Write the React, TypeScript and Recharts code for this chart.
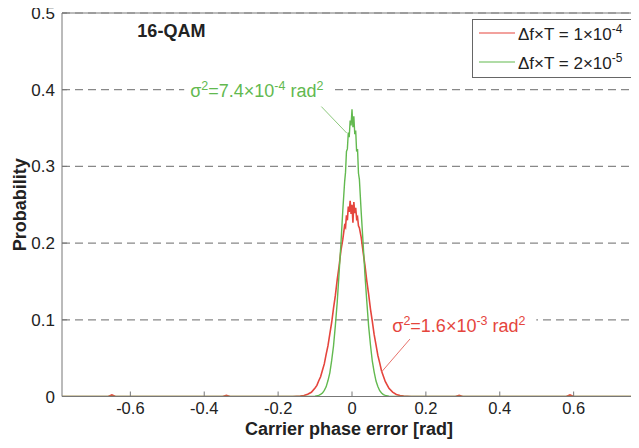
import { LineChart, Line, XAxis, YAxis, CartesianGrid, Legend, ReferenceDot, ReferenceLine } from "recharts";

const FONT = '"Liberation Sans", Arial, Helvetica, sans-serif';
const RED = "#e5453d";
const GREEN = "#62b94f";
const AXIS = "#777";

const xTicks = [-0.6, -0.4, -0.2, 0, 0.2, 0.4, 0.6];
const yTicks = [0, 0.1, 0.2, 0.3, 0.4, 0.5];

// Δf×T = 1e-4 (red)
const redX = [
  -0.785, -0.66, -0.65, -0.64, -0.35, -0.34, -0.33,
  -0.16, -0.15, -0.14, -0.13, -0.12, -0.11, -0.1,
  -0.095, -0.09, -0.085, -0.08, -0.075, -0.07, -0.065, -0.06, -0.055, -0.05, -0.045, -0.04, -0.035, -0.03, -0.025, -0.02,
  -0.0175, -0.015, -0.0125, -0.01, -0.0075, -0.005, -0.0025, 0, 0.0025, 0.005, 0.0075, 0.01, 0.0125, 0.015, 0.0175,
  0.02, 0.025, 0.03, 0.035, 0.04, 0.045, 0.05, 0.055, 0.06, 0.065, 0.07, 0.075, 0.08, 0.085, 0.09, 0.095,
  0.1, 0.11, 0.12, 0.13, 0.14, 0.15, 0.16,
  0.28, 0.29, 0.3, 0.58, 0.59, 0.6, 0.785,
];
const redP = [
  0, 0, 0.002, 0, 0, 0.0015, 0,
  0, 0.0003, 0.0006, 0.0012, 0.003, 0.0055, 0.0112,
  0.0145, 0.0205, 0.0258, 0.0342, 0.0425, 0.0548, 0.0662, 0.0818, 0.0965, 0.1152, 0.1318, 0.1525, 0.1698, 0.1902, 0.2045, 0.2228,
  0.2205, 0.2362, 0.2298, 0.2475, 0.2406, 0.2552, 0.2381, 0.2498, 0.2265, 0.2534, 0.2392, 0.2461, 0.2318, 0.234, 0.2226,
  0.2198, 0.2072, 0.1885, 0.1712, 0.1508, 0.1335, 0.114, 0.0978, 0.0806, 0.0672, 0.0536, 0.0438, 0.0332, 0.0265, 0.0196, 0.0152,
  0.0108, 0.0058, 0.0027, 0.0014, 0.0005, 0.0002, 0,
  0, 0.0015, 0, 0, 0.002, 0, 0,
];

// Δf×T = 2e-5 (green)
const greenX = [
  -0.785, -0.11, -0.1, -0.09,
  -0.085, -0.08, -0.075, -0.07, -0.065, -0.06, -0.055, -0.05, -0.045, -0.04, -0.035, -0.03, -0.025, -0.02,
  -0.0175, -0.015, -0.0125, -0.01, -0.0075, -0.005, -0.0025, 0, 0.0025, 0.005, 0.0075, 0.01, 0.0125, 0.015, 0.0175,
  0.02, 0.025, 0.03, 0.035, 0.04, 0.045, 0.05, 0.055, 0.06, 0.065, 0.07, 0.075, 0.08, 0.085,
  0.09, 0.1, 0.11, 0.785,
];
const greenP = [
  0, 0, 0.0004, 0.0015,
  0.0027, 0.0045, 0.008, 0.0126, 0.0208, 0.0309, 0.047, 0.0661, 0.0928, 0.1228, 0.1605, 0.1988, 0.2418, 0.2795,
  0.2925, 0.3195, 0.3228, 0.3442, 0.3382, 0.3598, 0.3535, 0.3745, 0.3512, 0.3652, 0.342, 0.3468, 0.3195, 0.3225, 0.291,
  0.283, 0.2395, 0.2002, 0.159, 0.1242, 0.0918, 0.0672, 0.046, 0.0318, 0.0201, 0.013, 0.0076, 0.0047, 0.0025,
  0.0014, 0.0004, 0, 0,
];

const redData = redX.map((x, i) => ({ x, p: redP[i] }));
const greenData = greenX.map((x, i) => ({ x, p: greenP[i] }));

// annotation text with a white patch behind it, like the original figure
const SigmaText = ({ x, y, color, mant, exp }: any) => (
  <g>
    <rect x={x - 6} y={y - 19} width={150} height={26} fill="#fff" />
    <text x={x} y={y} fill={color} fontSize={18} fontFamily={FONT}>
      σ<tspan dy={-7} fontSize={12.5}>2</tspan>
      <tspan dy={7}>={mant}×10</tspan>
      <tspan dy={-7} fontSize={12.5}>{exp}</tspan>
      <tspan dy={7}> rad</tspan>
      <tspan dy={-7} fontSize={12.5}>2</tspan>
    </text>
  </g>
);

const legendRows = [
  { color: RED, exp: "-4", mant: "1" },
  { color: GREEN, exp: "-5", mant: "2" },
];

const LegendBox = () => (
  <div
    style={{
      position: "relative",
      width: 175,
      height: 59,
      border: "1.5px solid #666",
      background: "#fff",
      boxSizing: "border-box",
      fontFamily: FONT,
      fontSize: 17,
      color: "#222",
    }}
  >
    {legendRows.map((r, i) => (
      <div
        key={i}
        style={{ position: "absolute", left: 6, top: i * 29 - 1, height: 28, display: "flex", alignItems: "center", whiteSpace: "nowrap" }}
      >
        <svg width={36} height={4} style={{ marginRight: 3 }}>
          <line x1={0} y1={2} x2={36} y2={2} stroke={r.color} strokeWidth={1.2} />
        </svg>
        <span>
          Δf×T = {r.mant}×10<sup style={{ fontSize: 12 }}>{r.exp}</sup>
        </span>
      </div>
    ))}
  </div>
);

export default function App() {
  return (
    <div style={{ margin: -8, width: 639, height: 448, overflow: "hidden", background: "#fff", position: "relative" }}>
      <LineChart width={660} height={448} margin={{ top: 12, right: 18, bottom: 0, left: 0 }}>
        <CartesianGrid vertical={false} stroke="#888" strokeDasharray="8 5" strokeWidth={1.2} />
        <XAxis
          xAxisId="top"
          orientation="top"
          type="number"
          domain={[-0.785, 0.785]}
          ticks={xTicks}
          tick={false}
          tickSize={-5}
          height={1}
          stroke={AXIS}
          allowDataOverflow
        />
        <XAxis
          dataKey="x"
          type="number"
          domain={[-0.785, 0.785]}
          ticks={xTicks}
          tickSize={-5}
          tickMargin={11}
          height={51.5}
          stroke={AXIS}
          allowDataOverflow
          tick={{ fill: "#222", fontSize: 16.5, fontFamily: FONT }}
          label={{
            content: (p: any) => (
              <text
                x={p.viewBox.x + p.viewBox.width / 2 - 3}
                y={p.viewBox.y + 38}
                textAnchor="middle"
                fontSize={18}
                fontWeight="bold"
                fontFamily={FONT}
                fill="#222"
              >
                Carrier phase error [rad]
              </text>
            ),
          }}
        />
        <YAxis
          type="number"
          domain={[0, 0.5]}
          ticks={yTicks}
          width={62}
          tickSize={-5}
          tickMargin={12}
          stroke={AXIS}
          allowDataOverflow
          tick={{ fill: "#222", fontSize: 17, fontFamily: FONT }}
          label={{
            content: (p: any) => {
              const cy = p.viewBox.y + p.viewBox.height / 2;
              return (
                <text
                  x={20}
                  y={cy}
                  transform={`rotate(-90 20 ${cy})`}
                  textAnchor="middle"
                  dominantBaseline="central"
                  fontSize={18}
                  fontWeight="bold"
                  fontFamily={FONT}
                  fill="#222"
                >
                  Probability
                </text>
              );
            },
          }}
        />
        <ReferenceDot
          x={-0.438}
          y={0.391}
          r={0}
          fill="none"
          stroke="none"
          label={{ content: (p: any) => <SigmaText x={p.viewBox.x} y={p.viewBox.y} color={GREEN} mant="7.4" exp="-4" /> }}
        />
        <ReferenceDot
          x={0.109}
          y={0.084}
          r={0}
          fill="none"
          stroke="none"
          label={{ content: (p: any) => <SigmaText x={p.viewBox.x} y={p.viewBox.y} color={RED} mant="1.6" exp="-3" /> }}
        />
        <ReferenceDot
          x={-0.581}
          y={0.469}
          r={0}
          fill="none"
          stroke="none"
          label={{
            content: (p: any) => (
              <text x={p.viewBox.x} y={p.viewBox.y} fontSize={18} fontWeight="bold" fontFamily={FONT} fill="#222">
                16-QAM
              </text>
            ),
          }}
        />
        <Line data={redData} dataKey="p" type="linear" stroke={RED} strokeWidth={1.6} dot={false} isAnimationActive={false} />
        <Line data={greenData} dataKey="p" type="linear" stroke={GREEN} strokeWidth={1.4} dot={false} isAnimationActive={false} />
        <ReferenceLine
          segment={[{ x: -0.083, y: 0.378 }, { x: -0.0143, y: 0.3435 }]}
          stroke="#8cc87c"
          strokeWidth={1}
          ifOverflow="visible"
        />
        <ReferenceLine
          segment={[{ x: 0.166, y: 0.08 }, { x: 0.08, y: 0.032 }]}
          stroke="#e8736c"
          strokeWidth={1}
          ifOverflow="visible"
        />
        <Legend
          content={<LegendBox />}
          layout="vertical"
          align="center"
          verticalAlign="middle"
          wrapperStyle={{ top: 19, left: 472, width: 175, height: 59 }}
        />
      </LineChart>
    </div>
  );
}
